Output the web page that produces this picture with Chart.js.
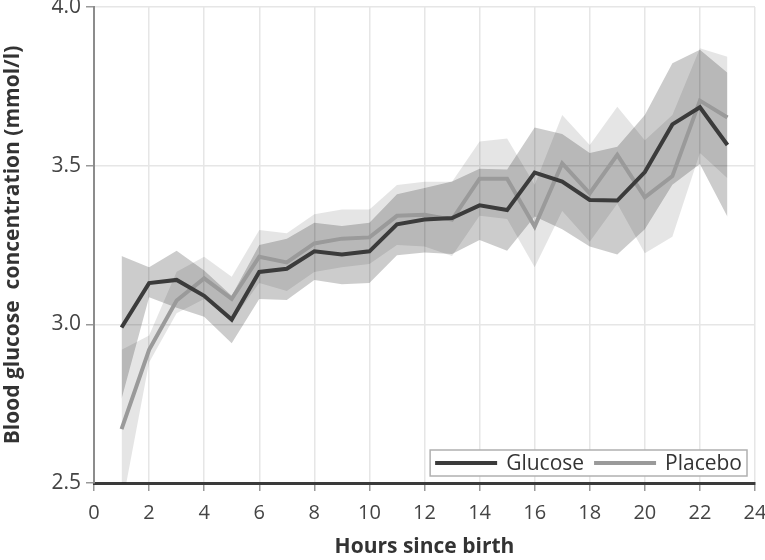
<!DOCTYPE html>
<html>
<head>
<meta charset="utf-8">
<script src="https://cdn.jsdelivr.net/npm/chart.js@4"></script>
<style>
  html, body { margin: 0; padding: 0; background: #fff; }
  #wrap { width: 765px; height: 560px; }
</style>
</head>
<body>
<div id="wrap"><canvas id="myChart" width="765" height="560"></canvas></div>
<script>
// hours since birth
const hours = [1, 2, 3, 4, 5, 6, 7, 8, 9, 10, 11, 12, 13, 14, 15, 16, 17, 18, 19, 20, 21, 22, 23];

// mean values (mmol/l)
const glucose = [2.99, 3.13, 3.14, 3.09, 3.015, 3.165, 3.175, 3.23, 3.22, 3.23, 3.315, 3.33, 3.335, 3.375, 3.36, 3.478, 3.45, 3.392, 3.39, 3.48, 3.63, 3.684, 3.565];
const placebo = [2.67, 2.92, 3.075, 3.145, 3.08, 3.213, 3.195, 3.255, 3.27, 3.274, 3.342, 3.345, 3.33, 3.459, 3.459, 3.308, 3.507, 3.413, 3.534, 3.40, 3.467, 3.705, 3.652];

// confidence bands
const glucoseUpper = [3.215, 3.18, 3.232, 3.17, 3.09, 3.25, 3.27, 3.32, 3.31, 3.32, 3.41, 3.43, 3.45, 3.49, 3.488, 3.62, 3.60, 3.54, 3.56, 3.66, 3.823, 3.865, 3.793];
const glucoseLower = [2.765, 3.085, 3.052, 3.024, 2.94, 3.08, 3.077, 3.14, 3.126, 3.13, 3.218, 3.226, 3.222, 3.266, 3.232, 3.34, 3.30, 3.245, 3.22, 3.30, 3.44, 3.505, 3.339];
const placeboUpper = [2.92, 2.965, 3.166, 3.213, 3.15, 3.297, 3.287, 3.347, 3.362, 3.362, 3.439, 3.449, 3.449, 3.576, 3.586, 3.44, 3.66, 3.565, 3.686, 3.58, 3.66, 3.87, 3.843];
const placeboLower = [2.42, 2.88, 3.035, 3.08, 3.01, 3.13, 3.105, 3.165, 3.18, 3.19, 3.25, 3.245, 3.215, 3.342, 3.332, 3.18, 3.357, 3.26, 3.38, 3.224, 3.276, 3.54, 3.46];

const xTicks = [0, 2, 4, 6, 8, 10, 12, 14, 16, 18, 20, 22, 24];
const yTicks = [2.5, 3.0, 3.5, 4.0];

function pts(vals) {
    return hours.map((h, i) => ({ x: h, y: vals[i] }));
}

// legend box in the lower right corner of the plot
const boxLegend = {
    id: 'boxLegend',
    afterDatasetsDraw(chart) {
        const ctx = chart.ctx;
        const area = chart.chartArea;
        const items = [
            { text: 'Glucose', color: '#3b3b3b' },
            { text: 'Placebo', color: '#9a9a9a' }
        ];
        ctx.save();
        ctx.font = '21px "Open Sans"';
        const lineLen = 62, gap = 9, pad = 5, between = 10;
        let w = pad;
        items.forEach((it, i) => {
            w += lineLen + gap + ctx.measureText(it.text).width + (i < items.length - 1 ? between : pad);
        });
        const h = 26;
        const right = area.right - 8;
        const bottom = area.bottom - 7;
        const left = right - w;
        const top = bottom - h;
        ctx.fillStyle = '#fff';
        ctx.fillRect(left, top, w, h);
        ctx.strokeStyle = '#b0b0b0';
        ctx.lineWidth = 1.5;
        ctx.strokeRect(left, top, w, h);
        let x = left + pad;
        const cy = top + h / 2;
        items.forEach(it => {
            ctx.strokeStyle = it.color;
            ctx.lineWidth = 4;
            ctx.beginPath();
            ctx.moveTo(x, cy);
            ctx.lineTo(x + lineLen, cy);
            ctx.stroke();
            x += lineLen + gap;
            ctx.fillStyle = '#333';
            ctx.textBaseline = 'middle';
            ctx.fillText(it.text, x, cy + 1);
            x += ctx.measureText(it.text).width + between;
        });
        ctx.restore();
    }
};

const ctx = document.getElementById('myChart').getContext('2d');
new Chart(ctx, {
    type: 'line',
    data: {
        datasets: [
            {
                label: 'Glucose',
                data: pts(glucose),
                borderColor: '#3b3b3b',
                borderWidth: 4,
                pointRadius: 0,
                fill: false,
                tension: 0
            },
            {
                label: 'Placebo',
                data: pts(placebo),
                borderColor: '#9a9a9a',
                borderWidth: 4,
                pointRadius: 0,
                fill: false,
                tension: 0
            },
            {
                label: 'glucoseUpper',
                data: pts(glucoseUpper),
                borderWidth: 0,
                pointRadius: 0,
                fill: false
            },
            {
                label: 'glucoseLower',
                data: pts(glucoseLower),
                borderWidth: 0,
                pointRadius: 0,
                backgroundColor: 'rgba(0,0,0,0.2)',
                fill: '-1'
            },
            {
                label: 'placeboUpper',
                data: pts(placeboUpper),
                borderWidth: 0,
                pointRadius: 0,
                fill: false
            },
            {
                label: 'placeboLower',
                data: pts(placeboLower),
                borderWidth: 0,
                pointRadius: 0,
                backgroundColor: 'rgba(0,0,0,0.1)',
                fill: '-1'
            }
        ]
    },
    options: {
        responsive: false,
        animation: false,
        layout: { padding: { top: 7, right: 10, left: 0, bottom: 0 } },
        plugins: {
            legend: { display: false },
            tooltip: { enabled: false }
        },
        scales: {
            x: {
                type: 'linear',
                min: 0,
                max: 24,
                afterBuildTicks: axis => { axis.ticks = xTicks.map(v => ({ value: v })); },
                grid: { color: '#e6e6e6', lineWidth: 1.5, tickColor: '#999', tickLength: 8 },
                border: { color: '#3a3a3a', width: 3 },
                ticks: { color: '#444', font: { family: 'Open Sans', size: 20 }, padding: 10, maxRotation: 0 },
                title: {
                    display: true,
                    text: 'Hours since birth',
                    color: '#333',
                    font: { family: 'Open Sans', size: 21, weight: 'bold' },
                    padding: { top: 12, bottom: 0 }
                },
                afterFit: axis => {
                    axis.height = 77;
                    axis.paddingLeft = 0;
                    axis.paddingRight = 0;
                }
            },
            y: {
                min: 2.5,
                max: 4.0,
                afterBuildTicks: axis => { axis.ticks = yTicks.map(v => ({ value: v })); },
                grid: { color: '#e6e6e6', lineWidth: 1.5, tickColor: '#999', tickLength: 8 },
                border: { color: '#8c8c8c', width: 2 },
                ticks: {
                    color: '#444',
                    font: { family: 'Open Sans', size: 21 },
                    padding: 5,
                    callback: v => v.toFixed(1)
                },
                title: {
                    display: true,
                    text: 'Blood glucose  concentration (mmol/l)',
                    color: '#333',
                    font: { family: 'Open Sans', size: 21, weight: 'bold' },
                    padding: { top: 0, bottom: 0 }
                },
                afterFit: axis => {
                    axis.width = 94;
                    axis.paddingTop = 0;
                    axis.paddingBottom = 0;
                }
            }
        }
    },
    plugins: [boxLegend]
});
</script>
</body>
</html>
